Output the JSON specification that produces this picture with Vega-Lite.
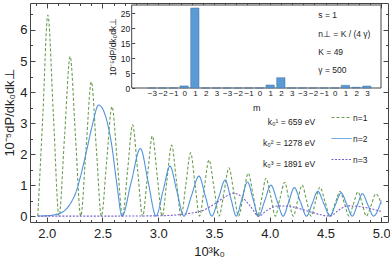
{
"$schema": "https://vega.github.io/schema/vega-lite/v6.json",
"width": 358, "height": 219,
"autosize": {"type": "none"},
"padding": {"left": 30, "top": 3, "right": 2, "bottom": 40},
"background": "white",
"config": {"font": "Liberation Sans", "view": {"stroke": "#444", "strokeWidth": 1}, "axis": {"labelOverlap": false}},
"datasets": {
"curves": [
{"s":"n=1","k":1.92,"p":0},{"s":"n=1","k":1.965,"p":3.24},{"s":"n=1","k":2.01,"p":6.48},{"s":"n=1","k":2.06,"p":3.24},{"s":"n=1","k":2.11,"p":0},
{"s":"n=1","k":2.16,"p":2.58},{"s":"n=1","k":2.21,"p":5.15},{"s":"n=1","k":2.2575,"p":2.58},{"s":"n=1","k":2.305,"p":0},
{"s":"n=1","k":2.3525,"p":2.17},{"s":"n=1","k":2.40,"p":4.33},{"s":"n=1","k":2.445,"p":2.17},{"s":"n=1","k":2.49,"p":0},
{"s":"n=1","k":2.5375,"p":1.77},{"s":"n=1","k":2.585,"p":3.53},{"s":"n=1","k":2.6325,"p":1.77},{"s":"n=1","k":2.68,"p":0},
{"s":"n=1","k":2.725,"p":1.47},{"s":"n=1","k":2.77,"p":2.94},{"s":"n=1","k":2.815,"p":1.47},{"s":"n=1","k":2.86,"p":0},
{"s":"n=1","k":2.9035,"p":1.29},{"s":"n=1","k":2.947,"p":2.58},{"s":"n=1","k":2.991,"p":1.29},{"s":"n=1","k":3.035,"p":0},
{"s":"n=1","k":3.0775,"p":1.15},{"s":"n=1","k":3.12,"p":2.29},{"s":"n=1","k":3.1625,"p":1.15},{"s":"n=1","k":3.205,"p":0},
{"s":"n=1","k":3.2475,"p":1.02},{"s":"n=1","k":3.29,"p":2.04},{"s":"n=1","k":3.33,"p":1.02},{"s":"n=1","k":3.37,"p":0},
{"s":"n=1","k":3.4125,"p":0.91},{"s":"n=1","k":3.455,"p":1.81},{"s":"n=1","k":3.5,"p":0.91},{"s":"n=1","k":3.545,"p":0},
{"s":"n=1","k":3.59,"p":0.78},{"s":"n=1","k":3.634,"p":1.56},{"s":"n=1","k":3.677,"p":0.78},{"s":"n=1","k":3.72,"p":0},
{"s":"n=1","k":3.763,"p":0.69},{"s":"n=1","k":3.807,"p":1.38},{"s":"n=1","k":3.85,"p":0.69},{"s":"n=1","k":3.89,"p":0},
{"s":"n=1","k":3.93,"p":0.61},{"s":"n=1","k":3.965,"p":1.22},{"s":"n=1","k":4.01,"p":0.61},{"s":"n=1","k":4.05,"p":0},
{"s":"n=1","k":4.09,"p":0.55},{"s":"n=1","k":4.135,"p":1.09},{"s":"n=1","k":4.17,"p":0.55},{"s":"n=1","k":4.21,"p":0},
{"s":"n=1","k":4.25,"p":0.5},{"s":"n=1","k":4.29,"p":1.0},{"s":"n=1","k":4.33,"p":0.5},{"s":"n=1","k":4.37,"p":0},
{"s":"n=1","k":4.41,"p":0.47},{"s":"n=1","k":4.45,"p":0.93},{"s":"n=1","k":4.495,"p":0.47},{"s":"n=1","k":4.54,"p":0},
{"s":"n=1","k":4.585,"p":0.4},{"s":"n=1","k":4.63,"p":0.8},{"s":"n=1","k":4.67,"p":0.4},{"s":"n=1","k":4.71,"p":0},
{"s":"n=1","k":4.75,"p":0.39},{"s":"n=1","k":4.79,"p":0.78},{"s":"n=1","k":4.83,"p":0.39},{"s":"n=1","k":4.865,"p":0},
{"s":"n=1","k":4.91,"p":0.36},{"s":"n=1","k":4.95,"p":0.72},{"s":"n=1","k":5.0,"p":0.4},
{"s":"n=2","k":1.92,"p":0},{"s":"n=2","k":2.05,"p":0.03},{"s":"n=2","k":2.15,"p":0.15},{"s":"n=2","k":2.22,"p":0.45},{"s":"n=2","k":2.26,"p":0.75},
{"s":"n=2","k":2.31,"p":1.38},{"s":"n=2","k":2.36,"p":2.15},{"s":"n=2","k":2.41,"p":2.95},{"s":"n=2","k":2.465,"p":3.58},{"s":"n=2","k":2.52,"p":3.3},
{"s":"n=2","k":2.58,"p":2.35},{"s":"n=2","k":2.63,"p":1.0},{"s":"n=2","k":2.675,"p":0},
{"s":"n=2","k":2.757,"p":1.09},{"s":"n=2","k":2.84,"p":2.18},{"s":"n=2","k":2.91,"p":1.09},{"s":"n=2","k":2.98,"p":0},
{"s":"n=2","k":3.042,"p":0.8},{"s":"n=2","k":3.105,"p":1.61},{"s":"n=2","k":3.167,"p":0.8},{"s":"n=2","k":3.23,"p":0},
{"s":"n=2","k":3.297,"p":0.65},{"s":"n=2","k":3.365,"p":1.29},{"s":"n=2","k":3.422,"p":0.65},{"s":"n=2","k":3.48,"p":0},
{"s":"n=2","k":3.54,"p":0.58},{"s":"n=2","k":3.6,"p":1.16},{"s":"n=2","k":3.65,"p":0.58},{"s":"n=2","k":3.7,"p":0},
{"s":"n=2","k":3.75,"p":0.55},{"s":"n=2","k":3.8,"p":1.1},{"s":"n=2","k":3.85,"p":0.55},{"s":"n=2","k":3.9,"p":0},
{"s":"n=2","k":3.955,"p":0.5},{"s":"n=2","k":4.01,"p":1.0},{"s":"n=2","k":4.065,"p":0.5},{"s":"n=2","k":4.12,"p":0},
{"s":"n=2","k":4.17,"p":0.46},{"s":"n=2","k":4.22,"p":0.92},{"s":"n=2","k":4.275,"p":0.46},{"s":"n=2","k":4.33,"p":0},
{"s":"n=2","k":4.38,"p":0.4},{"s":"n=2","k":4.43,"p":0.8},{"s":"n=2","k":4.485,"p":0.4},{"s":"n=2","k":4.54,"p":0},
{"s":"n=2","k":4.59,"p":0.38},{"s":"n=2","k":4.64,"p":0.75},{"s":"n=2","k":4.69,"p":0.38},{"s":"n=2","k":4.74,"p":0},
{"s":"n=2","k":4.785,"p":0.36},{"s":"n=2","k":4.83,"p":0.72},{"s":"n=2","k":4.88,"p":0.36},{"s":"n=2","k":4.93,"p":0},
{"s":"n=2","k":5.0,"p":0.5},
{"s":"n=3","k":1.92,"p":0},{"s":"n=3","k":2.5,"p":0},{"s":"n=3","k":3.0,"p":0.01},{"s":"n=3","k":3.2,"p":0.05},{"s":"n=3","k":3.3,"p":0.1},
{"s":"n=3","k":3.4,"p":0.18},{"s":"n=3","k":3.5,"p":0.38},{"s":"n=3","k":3.6,"p":0.62},{"s":"n=3","k":3.67,"p":0.74},{"s":"n=3","k":3.75,"p":0.62},
{"s":"n=3","k":3.83,"p":0.3},{"s":"n=3","k":3.9,"p":0},{"s":"n=3","k":3.98,"p":0.2},{"s":"n=3","k":4.08,"p":0.33},{"s":"n=3","k":4.2,"p":0.3},
{"s":"n=3","k":4.35,"p":0.15},{"s":"n=3","k":4.54,"p":0},{"s":"n=3","k":4.62,"p":0.2},{"s":"n=3","k":4.7,"p":0.33},{"s":"n=3","k":4.82,"p":0.3},
{"s":"n=3","k":4.95,"p":0.2},{"s":"n=3","k":5.0,"p":0.15}
],
"inset": [
{"i":0,"v":0},{"i":1,"v":0},{"i":2,"v":0},{"i":3,"v":0.7},{"i":4,"v":26.8},{"i":5,"v":0},{"i":6,"v":0},
{"i":7,"v":0},{"i":8,"v":0},{"i":9,"v":0},{"i":10,"v":0},{"i":11,"v":1.0},{"i":12,"v":3.45},{"i":13,"v":0},
{"i":14,"v":0},{"i":15,"v":0},{"i":16,"v":0},{"i":17,"v":0},{"i":18,"v":0.9},{"i":19,"v":0.25},{"i":20,"v":0.65}
]
},
"layer": [
 {"data": {"name": "curves"},
  "mark": {"type": "line", "interpolate": "monotone", "strokeWidth": 1.1, "clip": true},
  "encoding": {
   "x": {"field": "k", "type": "quantitative",
     "scale": {"domain": [1.85, 5.06], "nice": false, "zero": false},
     "axis": {"orient": "bottom", "values": [2.0,2.5,3.0,3.5,4.0,4.5,5.0], "format": ".1f",
       "labelOverlap": false, "labelFlush": false,
       "domain": false, "grid": false, "tickSize": -5, "tickColor": "#444", "labelPadding": 10,
       "labelFontSize": 13, "labelColor": "#222", "title": "10³k₀", "titleFontSize": 13, "titleFontWeight": "normal", "titleColor": "#222", "titlePadding": 5}},
   "y": {"field": "p", "type": "quantitative",
     "scale": {"domain": [-0.19, 6.87], "nice": false, "zero": false},
     "axis": {"orient": "left", "values": [0,1,2,3,4,5,6], "format": "d",
       "labelOverlap": false, "labelFlush": false,
       "domain": false, "grid": false, "tickSize": -5, "tickColor": "#444", "labelPadding": 8,
       "labelFontSize": 13, "labelColor": "#222", "title": "10⁻⁵dP/dk₀dk⊥", "titleFontSize": 13, "titleFontWeight": "normal", "titleColor": "#222", "titlePadding": 3}},
   "color": {"field": "s", "type": "nominal",
     "scale": {"domain": ["n=1","n=2","n=3"], "range": ["#6a9e4f","#4f94da","#7b5fd0"]},
     "legend": {"orient": "none", "legendX": 301, "legendY": 104, "title": null, "symbolType": "stroke", "symbolSize": 400, "symbolStrokeWidth": 1, "labelFontSize": 8.5, "labelColor": "#222", "rowPadding": 6, "padding": 0, "labelOffset": 1}},
   "strokeDash": {"field": "s", "type": "nominal",
     "scale": {"domain": ["n=1","n=2","n=3"], "range": [[3,2],[1,0],[2,1.5]]},
     "legend": {"orient": "none", "legendX": 301, "legendY": 104, "title": null, "symbolType": "stroke", "symbolSize": 400, "symbolStrokeWidth": 1, "labelFontSize": 8.5, "labelColor": "#222", "rowPadding": 6, "padding": 0, "labelOffset": 1}}
  }},
 {"data": {"values": [{}]},
  "mark": {"type": "text", "align": "right", "baseline": "top", "fontSize": 8.5, "lineHeight": 21, "color": "#222"},
  "encoding": {
   "x": {"datum": 4.406, "type": "quantitative", "scale": {"domain": [1.85, 5.06], "nice": false, "zero": false},
     "axis": {"orient": "bottom", "values": [1.9,2.1,2.2,2.3,2.4,2.6,2.7,2.8,2.9,3.1,3.2,3.3,3.4,3.6,3.7,3.8,3.9,4.1,4.2,4.3,4.4,4.6,4.7,4.8,4.9], "labels": false, "domain": false, "grid": false, "tickSize": -2.5, "tickColor": "#444", "title": null}},
   "y": {"datum": 3.15, "type": "quantitative", "scale": {"domain": [-0.19, 6.87], "nice": false, "zero": false},
     "axis": {"orient": "left", "values": [0.5,1.5,2.5,3.5,4.5,5.5,6.5], "labels": false, "domain": false, "grid": false, "tickSize": -2.5, "tickColor": "#444", "title": null}},
   "text": {"value": ["k₀¹ = 659 eV", "k₀² = 1278 eV", "k₀³ = 1891 eV"]}}},
 {"data": {"values": [{}]},
  "mark": {"type": "point", "opacity": 0},
  "encoding": {
   "x": {"datum": 3, "type": "quantitative", "scale": {"domain": [1.85, 5.06], "nice": false, "zero": false},
     "axis": {"orient": "top", "values": [2.0,2.5,3.0,3.5,4.0,4.5,5.0], "labels": false, "domain": false, "grid": false, "tickSize": -5, "tickColor": "#444", "title": null}},
   "y": {"datum": 3, "type": "quantitative", "scale": {"domain": [-0.19, 6.87], "nice": false, "zero": false},
     "axis": {"orient": "right", "values": [0,1,2,3,4,5,6], "labels": false, "domain": false, "grid": false, "tickSize": -5, "tickColor": "#444", "title": null}}}},
 {"data": {"values": [{}]},
  "mark": {"type": "point", "opacity": 0},
  "encoding": {
   "x": {"datum": 3, "type": "quantitative", "scale": {"domain": [1.85, 5.06], "nice": false, "zero": false},
     "axis": {"orient": "top", "values": [1.9,2.1,2.2,2.3,2.4,2.6,2.7,2.8,2.9,3.1,3.2,3.3,3.4,3.6,3.7,3.8,3.9,4.1,4.2,4.3,4.4,4.6,4.7,4.8,4.9], "labels": false, "domain": false, "grid": false, "tickSize": -2.5, "tickColor": "#444", "title": null}},
   "y": {"datum": 3, "type": "quantitative", "scale": {"domain": [-0.19, 6.87], "nice": false, "zero": false},
     "axis": {"orient": "right", "values": [0.5,1.5,2.5,3.5,4.5,5.5,6.5], "labels": false, "domain": false, "grid": false, "tickSize": -2.5, "tickColor": "#444", "title": null}}}},
 {"data": {"values": [{}]},
  "mark": {"type": "rect", "fill": "white", "stroke": "#444", "strokeWidth": 1},
  "encoding": {
   "x": {"datum": -1.41, "type": "quantitative", "scale": {"domain": [-1.41, 20.85], "range": [101.7, 351], "nice": false, "zero": false}, "axis": null},
   "x2": {"datum": 20.85},
   "y": {"datum": 0, "type": "quantitative", "scale": {"domain": [0, 27.8], "range": [85, 2], "nice": false, "zero": false}, "axis": null},
   "y2": {"datum": 27.8}}},
 {"data": {"name": "inset"},
  "mark": {"type": "bar", "width": 8.3, "fill": "#5b9bd5", "stroke": "#3f6f9f", "strokeWidth": 0.5},
  "encoding": {
   "x": {"field": "i", "type": "quantitative",
     "scale": {"domain": [-1.41, 20.85], "range": [101.7, 351], "nice": false, "zero": false},
     "axis": {"orient": "bottom", "offset": -134, "zindex": 2, "values": [0,1,2,3,4,5,6,7,8,9,10,11,12,13,14,15,16,17,18,19,20],
       "labelExpr": "['−3','−2','−1','0','1','2','3'][datum.value % 7]",
       "domain": false, "ticks": false, "grid": false, "labelFontSize": 8, "labelPadding": 1, "labelColor": "#222", "labelOverlap": false, "labelFlush": false,
       "title": "m", "titleFontSize": 9, "titleFontWeight": "normal", "titleColor": "#222", "titlePadding": 6}},
   "y": {"field": "v", "type": "quantitative",
     "scale": {"domain": [0, 27.8], "range": [85, 2], "nice": false, "zero": false},
     "axis": {"orient": "left", "offset": -101.7, "zindex": 2, "values": [0,5,10,15,20,25],
       "domain": false, "grid": false, "tickSize": -3, "tickColor": "#444", "labelFontSize": 8.5, "labelPadding": 5, "labelColor": "#222", "labelOverlap": false, "labelFlush": false,
       "title": "10⁻⁵dP/dk₀dk⊥", "titleFontSize": 8.5, "titleFontWeight": "normal", "titleColor": "#222", "titlePadding": 3}}
  }},
 {"data": {"values": [{}]},
  "mark": {"type": "text", "align": "left", "baseline": "top", "fontSize": 8.5, "lineHeight": 18.3, "color": "#222"},
  "encoding": {
   "x": {"datum": 15.25, "type": "quantitative", "scale": {"domain": [-1.41, 20.85], "range": [101.7, 351], "nice": false, "zero": false}, "axis": null},
   "y": {"datum": 25.7, "type": "quantitative", "scale": {"domain": [0, 27.8], "range": [85, 2], "nice": false, "zero": false}, "axis": null},
   "text": {"value": ["s = 1", "n⊥ = K / (4 γ)", "K = 49", "γ = 500"]}}}
],
"resolve": {"scale": {"x": "independent", "y": "independent"}}
}
